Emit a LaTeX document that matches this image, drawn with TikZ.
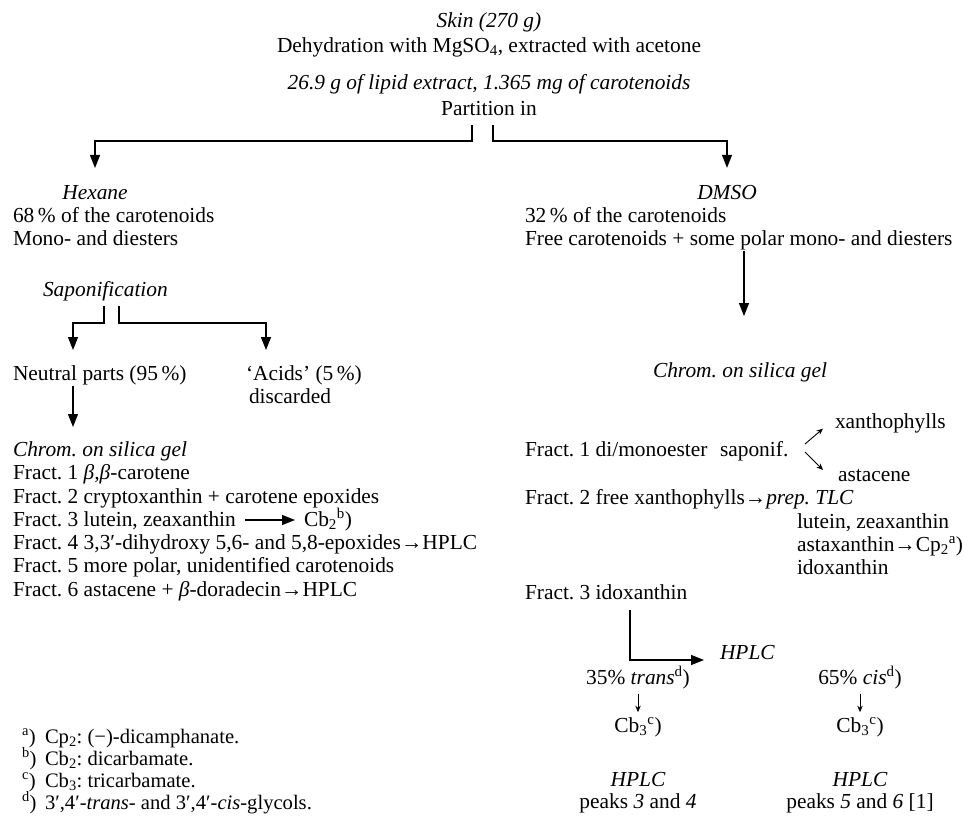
\documentclass[tikz,border=0pt]{standalone}
\usepackage{fontspec}
\setmainfont{Liberation Serif}
\usetikzlibrary{arrows.meta}
\frenchspacing
\begin{document}
\begin{tikzpicture}[x=1pt,y=-1pt,
  every node/.style={inner sep=0pt, outer sep=0pt, font=\fontsize{21.4}{23}\selectfont\frenchspacing},
  tl/.style={anchor=base west},
  tc/.style={anchor=base},
  ital/.style={font=\fontsize{21.4}{23}\selectfont\frenchspacing\itshape},
  fn/.style={anchor=base west, font=\fontsize{20.6}{22}\selectfont\frenchspacing},
  arr/.style={line width=1.2pt, -{Triangle[length=13pt,width=10pt]}},
  sarr/.style={line width=0.9pt, -{Stealth[length=6.5pt,width=5.5pt]}},
]
\useasboundingbox (0,0) rectangle (964,815);

% ---- top ----
\node[tc,ital] (skin) at (489,27) {Skin (270 g)};
\node[tc] (dehyd) at (489,52) {Dehydration with MgSO\textsubscript{4}, extracted with acetone};
\node[tc,ital] (lipid) at (489,89) {26.9 g of lipid extract, 1.365 mg of carotenoids};
\node[tc] (part) at (489,115) {Partition in};
\coordinate (stL) at (472,125);
\coordinate (stR) at (493,125);
\coordinate (lv1) at (0,141);
\node[tc,ital] (hex) at (95,199) {Hexane};
\node[tc,ital] (dmso) at (727,199) {DMSO};
\draw[arr] (stL) -- (stL |- lv1) -| ([yshift=17pt]hex.north);
\draw[arr] (stR) -- (stR |- lv1) -| ([yshift=17pt]dmso.north);

% ---- left column ----
\node[tl] (l68) at (13,222) {68\,\% of the carotenoids};
\node[tl] (lmono) at (13,245) {Mono- and diesters};
\node[tl,ital] (sapon) at (43,296) {Saponification};
\coordinate (sL) at (104,306);
\coordinate (sR) at (119,306);
\coordinate (lv2) at (0,323);
\node[tl] (neut) at (13,380) {Neutral parts (95\,\%)};
\node[tl] (acid) at (246,380) {‘Acids’ (5\,\%)};
\node[tl] (disc) at (249,403) {discarded};
\coordinate (tipN) at (73,350);
\coordinate (tipA) at (266,350);
\draw[arr] (sL) -- (sL |- lv2) -| (tipN);
\draw[arr] (sR) -- (sR |- lv2) -| (tipA);

\node[tl,ital] (lchrom) at (13,456) {Chrom. on silica gel};
\coordinate (nTop) at (73,386);
\coordinate (nTip) at (73,427);
\draw[arr] (nTop) -- (nTip);
\node[tl] (lf1) at (13,479) {Fract. 1 \textit{β,β}-carotene};
\node[tl] (lf2) at (13,503) {Fract. 2 cryptoxanthin + carotene epoxides};
\node[tl] (lf3) at (13,526) {Fract. 3 lutein, zeaxanthin};
\node[tl] (cb2) at (304,526) {Cb\textsubscript{2}\textsuperscript{b})};
\node[tl] (lf4) at (13,549) {Fract. 4 3,3′-dihydroxy 5,6- and 5,8-epoxides→HPLC};
\node[tl] (lf5) at (13,572) {Fract. 5 more polar, unidentified carotenoids};
\node[tl] (lf6) at (13,596) {Fract. 6 astacene + \textit{β}-doradecin→HPLC};
\draw[arr] ([shift={(9pt,6pt)}]lf3.base east) -- ([shift={(-9pt,6pt)}]cb2.base west);

% ---- right column ----
\node[tl] (r32) at (525,222) {32\,\% of the carotenoids};
\node[tl] (rfree) at (525,245) {Free carotenoids + some polar mono- and diesters};
\coordinate (vTop) at (744,251);
\coordinate (vTip) at (744,316);
\draw[arr] (vTop) -- (vTip);
\node[tc,ital] (rchrom) at (740,377) {Chrom. on silica gel};

\node[tl] (xan) at (835,428) {xanthophylls};
\node[tl] (rf1) at (525,456) {Fract. 1 di/monoester};
\node[tl] (sapf) at (720,456) {saponif.};
\node[tl] (astc) at (838,481) {astacene};
\coordinate (sapU) at (805,444);
\coordinate (sapD) at (805,452);
\draw[sarr] (sapU) -- ([shift={(-12pt,4pt)}]xan.south west);
\draw[sarr] (sapD) -- ([shift={(-15pt,-1pt)}]astc.north west);

\node[tl] (rf2) at (525,504) {Fract. 2 free xanthophylls→\textit{prep. TLC}};
\node[tl] (lut) at (797,528) {lutein, zeaxanthin};
\node[tl] (astx) at (797,551) {astaxanthin→Cp\textsubscript{2}\textsuperscript{a})};
\node[tl] (idox) at (797,574) {idoxanthin};
\node[tl] (rf3) at (525,599) {Fract. 3 idoxanthin};
\node[tl,ital] (hplcA) at (720,659) {HPLC};
\coordinate (eTop) at (630,610);
\draw[arr] (eTop) |- ([shift={(-16pt,-1pt)}]hplcA.base west);

\node[tc] (trans) at (638,684) {35\% \textit{trans}\textsuperscript{d})};
\node[tc] (cis) at (860,684) {65\% \textit{cis}\textsuperscript{d})};
\node[tc] (cb3a) at (638,732) {Cb\textsubscript{3}\textsuperscript{c})};
\node[tc] (cb3b) at (860,732) {Cb\textsubscript{3}\textsuperscript{c})};
\draw[sarr] ([yshift=-5pt]trans.south) -- ([yshift=5pt]cb3a.north);
\draw[sarr] ([yshift=-5pt]cis.south) -- ([yshift=5pt]cb3b.north);
\node[tc,ital] (hplcL) at (638,786) {HPLC};
\node[tc,ital] (hplcR) at (860,786) {HPLC};
\node[tc] (pkL) at (638,808) {peaks \textit{3} and \textit{4}};
\node[tc] (pkR) at (860,808) {peaks \textit{5} and \textit{6} [1]};

% ---- footnotes ----
\node[fn] (fa) at (22,743) {\textsuperscript{a})};
\node[fn] (fat) at (45,743) {Cp\textsubscript{2}: (−)-dicamphanate.};
\node[fn] (fb) at (22,765) {\textsuperscript{b})};
\node[fn] (fbt) at (45,765) {Cb\textsubscript{2}: dicarbamate.};
\node[fn] (fc) at (22,787) {\textsuperscript{c})};
\node[fn] (fct) at (45,787) {Cb\textsubscript{3}: tricarbamate.};
\node[fn] (fd) at (22,809) {\textsuperscript{d})};
\node[fn] (fdt) at (45,809) {3′,4′-\textit{trans}- and 3′,4′-\textit{cis}-glycols.};
\end{tikzpicture}
\end{document}
